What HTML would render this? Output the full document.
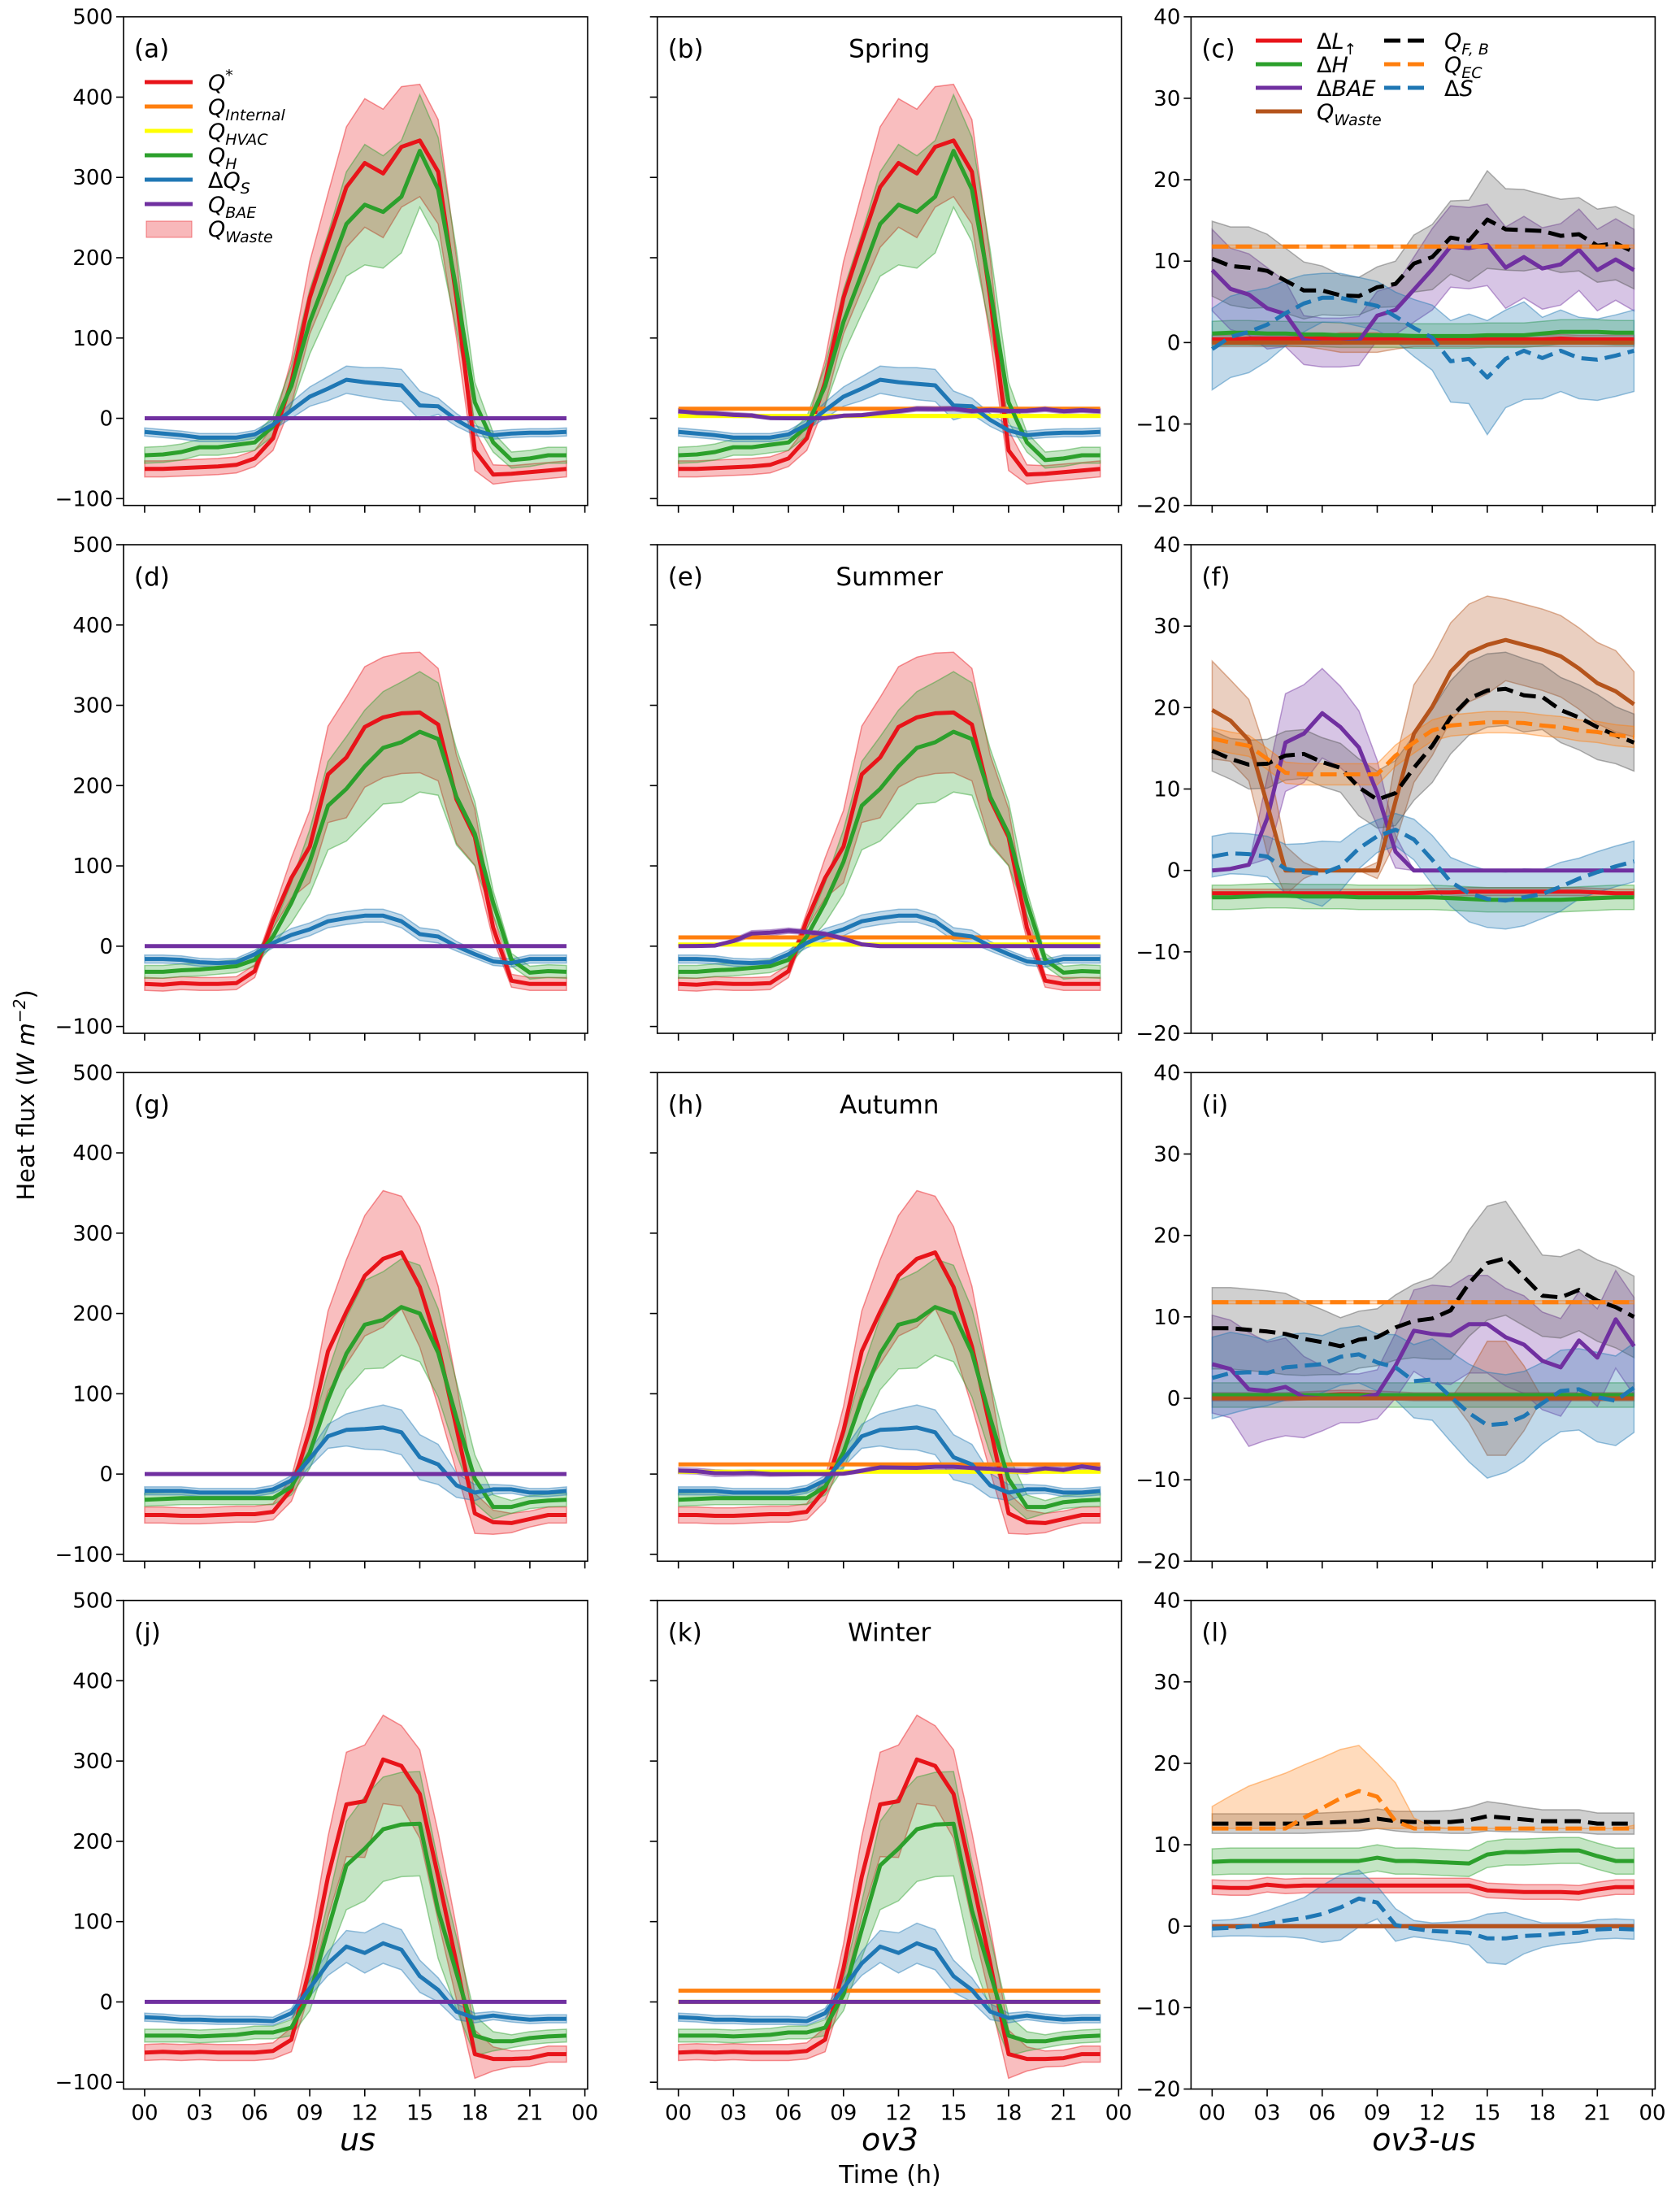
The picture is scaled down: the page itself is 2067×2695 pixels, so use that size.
<!DOCTYPE html>
<html><head><meta charset="utf-8">
<style>
html,body{margin:0;padding:0;background:#fff;}
svg{display:block;font-family:"DejaVu Sans","Liberation Sans",sans-serif;}
</style></head>
<body>
<svg id="fig" xmlns="http://www.w3.org/2000/svg" width="2067" height="2695" viewBox="0 0 2067 2695">
<rect x="0" y="0" width="2067" height="2695" fill="#fff"/>
<defs id="defs"></defs>
<g id="plots"></g>
<g id="legend-a" font-size="27" font-style="italic">
  <line x1="178" y1="101" x2="237" y2="101" stroke="#e8141a" stroke-width="5"/>
  <text x="256" y="111">Q<tspan dy="-12" font-size="19" font-style="normal">*</tspan></text>
  <line x1="178" y1="131" x2="237" y2="131" stroke="#ff7f0e" stroke-width="5"/>
  <text x="256" y="141">Q<tspan dy="7" font-size="19">Internal</tspan></text>
  <line x1="178" y1="161" x2="237" y2="161" stroke="#ffff00" stroke-width="5"/>
  <text x="256" y="171">Q<tspan dy="7" font-size="19">HVAC</tspan></text>
  <line x1="178" y1="191" x2="237" y2="191" stroke="#2ca02c" stroke-width="5"/>
  <text x="256" y="201">Q<tspan dy="7" font-size="19">H</tspan></text>
  <line x1="178" y1="221" x2="237" y2="221" stroke="#1f77b4" stroke-width="5"/>
  <text x="256" y="231"><tspan font-style="normal">Δ</tspan>Q<tspan dy="7" font-size="19">S</tspan></text>
  <line x1="178" y1="251" x2="237" y2="251" stroke="#7030a0" stroke-width="5"/>
  <text x="256" y="261">Q<tspan dy="7" font-size="19">BAE</tspan></text>
  <rect x="180" y="272" width="56" height="20" fill="#e8141a" fill-opacity="0.3" stroke="#e8141a" stroke-opacity="0.5"/>
  <text x="256" y="291">Q<tspan dy="7" font-size="19">Waste</tspan></text>
</g>
<g id="legend-c" font-size="27" font-style="italic">
  <line x1="1545" y1="50" x2="1602" y2="50" stroke="#e8141a" stroke-width="5"/>
  <text x="1620" y="60"><tspan font-style="normal">Δ</tspan>L<tspan dy="7" font-size="19" font-style="normal">↑</tspan></text>
  <line x1="1545" y1="79" x2="1602" y2="79" stroke="#2ca02c" stroke-width="5"/>
  <text x="1620" y="89"><tspan font-style="normal">Δ</tspan>H</text>
  <line x1="1545" y1="108" x2="1602" y2="108" stroke="#7030a0" stroke-width="5"/>
  <text x="1620" y="118"><tspan font-style="normal">Δ</tspan>BAE</text>
  <line x1="1545" y1="137" x2="1602" y2="137" stroke="#b5541c" stroke-width="5"/>
  <text x="1620" y="147">Q<tspan dy="7" font-size="19">Waste</tspan></text>
  <line x1="1703" y1="50" x2="1752" y2="50" stroke="#000" stroke-width="5" stroke-dasharray="20 9"/>
  <text x="1777" y="60">Q<tspan dy="7" font-size="19">F, B</tspan></text>
  <line x1="1703" y1="79" x2="1752" y2="79" stroke="#ff7f0e" stroke-width="5" stroke-dasharray="20 9"/>
  <text x="1777" y="89">Q<tspan dy="7" font-size="19">EC</tspan></text>
  <line x1="1703" y1="108" x2="1752" y2="108" stroke="#1f77b4" stroke-width="5" stroke-dasharray="20 9"/>
  <text x="1777" y="118"><tspan font-style="normal">Δ</tspan>S</text>
</g>
<text x="440" y="2645" font-size="38" font-style="italic" text-anchor="middle">us</text>
<text x="1095" y="2645" font-size="38" font-style="italic" text-anchor="middle">ov3</text>
<text x="1752" y="2645" font-size="38" font-style="italic" text-anchor="middle">ov3-us</text>
<text x="1095" y="2685" font-size="30" text-anchor="middle">Time (h)</text>
<text x="0" y="0" font-size="29" text-anchor="middle" transform="translate(42,1347) rotate(-90)">Heat flux (<tspan font-style="italic">W m</tspan><tspan dy="-11" font-size="20" font-style="italic">−2</tspan><tspan dy="11">)</tspan></text>
</svg>
<script>
// ---------------- data ----------------
const hours = [0,1,2,3,4,5,6,7,8,9,10,11,12,13,14,15,16,17,18,19,20,21,22,23];
const seasons = ['Spring','Summer','Autumn','Winter'];
const xTickHours = [0,3,6,9,12,15,18,21,24];
const xTickLabels = ['00','03','06','09','12','15','18','21','00'];
const yTicksFlux = [500,400,300,200,100,0,-100];
const yTicksDiff = [40,30,20,10,0,-10,-20];

// Q* (net radiation)
const qstar_spring = [-63,-63,-62,-61,-60,-58,-50,-25,45,150,220,288,318,305,338,346,307,150,-40,-70,-69,-67,-65,-63];
const qstar_summer = [-47,-48,-46,-47,-47,-46,-31,32,85,124,214,235,273,285,290,291,276,183,136,23,-43,-47,-47,-47];
const qstar_autumn = [-51,-51,-52,-52,-51,-50,-50,-47,-19,54,153,202,247,268,276,233,159,58,-49,-60,-61,-56,-51,-51];
const qstar_winter = [-63,-62,-63,-62,-63,-63,-63,-61,-47,42,156,246,250,302,294,259,156,48,-65,-71,-71,-70,-65,-65];
const qstarSpread_spring = [10,10,10,10,10,10,10,15,28,45,60,75,80,80,75,70,65,50,25,12,10,10,10,10];
const qstarSpread_summer = [8,8,8,8,8,8,8,10,25,45,60,75,75,75,75,75,70,55,35,15,8,8,8,8];
const qstarSpread_autumn = [10,10,10,10,10,10,10,10,15,30,50,65,75,85,70,75,75,55,25,15,12,10,10,10];
const qstarSpread_winter = [10,10,10,10,10,10,10,10,15,30,50,65,70,55,50,55,55,45,30,15,10,10,10,10];
// QH
const qh_spring = [-46,-45,-42,-36,-36,-33,-30,-10,40,120,180,242,266,257,276,333,285,160,20,-30,-52,-50,-46,-46];
const qh_summer = [-32,-32,-30,-29,-27,-25,-17,12,54,105,175,196,224,247,254,267,258,186,140,54,-17,-33,-31,-32];
const qh_autumn = [-32,-31,-30,-30,-30,-30,-30,-30,-16,27,93,150,186,192,208,200,151,70,-6,-41,-41,-35,-33,-32];
const qh_winter = [-42,-42,-42,-43,-42,-41,-38,-38,-32,9,90,170,191,215,221,222,114,36,-42,-49,-49,-45,-43,-42];
const qhSpread_spring = [10,10,10,10,10,10,10,12,25,40,50,65,75,70,70,70,65,50,25,12,10,10,10,10];
const qhSpread_summer = [8,8,8,8,8,8,8,10,25,40,55,65,70,70,75,75,70,60,40,15,8,8,8,8];
const qhSpread_autumn = [8,8,8,8,8,8,8,8,10,20,35,45,55,60,60,60,55,45,30,15,8,8,8,8];
const qhSpread_winter = [8,8,8,8,8,8,8,8,10,20,35,55,65,65,65,65,60,45,25,12,8,8,8,8];
// ΔQS
const dqs_spring = [-17,-19,-21,-24,-24,-24,-20,-8,10,27,37,48,45,43,41,16,15,-2,-15,-21,-19,-18,-18,-17];
const dqs_summer = [-16,-16,-17,-20,-21,-20,-10,4,14,21,31,35,38,38,31,15,12,0,-10,-19,-21,-16,-16,-16];
const dqs_autumn = [-21,-21,-21,-23,-23,-23,-23,-19,-8,19,47,55,56,58,52,21,12,-14,-23,-19,-19,-23,-23,-21];
const dqs_winter = [-19,-20,-22,-22,-23,-23,-23,-24,-14,17,48,69,61,73,65,32,15,-12,-20,-17,-20,-22,-21,-21];
const dqsSpread_spring = [5,5,5,5,5,5,5,6,10,12,15,17,18,20,20,18,10,8,6,5,5,5,5,5];
const dqsSpread_summer = [5,5,5,5,5,5,5,6,8,8,8,8,8,8,8,8,8,6,5,5,5,5,5,5];
const dqsSpread_autumn = [5,5,5,5,5,5,5,5,6,10,15,20,25,28,28,28,25,15,10,6,5,5,5,5];
const dqsSpread_winter = [5,5,5,5,5,5,5,5,6,10,15,20,25,25,25,20,15,10,6,5,5,5,5,5];
// ov3 building terms (per-season levels)
const qInternalLevel = [12,11,12,14];
const qHVACLevel = [3,2,3,0];

// ov3-us differences
const dL_spring = [0.4,0.4,0.5,0.5,0.5,0.5,0.5,0.5,0.5,0.5,0.5,0.5,0.4,0.4,0.4,0.4,0.4,0.4,0.4,0.5,0.4,0.4,0.4,0.4];
const dL_summer = [-2.8,-2.8,-2.8,-2.8,-2.8,-2.8,-2.8,-2.8,-2.8,-2.8,-2.8,-2.8,-2.7,-2.7,-2.6,-2.6,-2.6,-2.6,-2.6,-2.6,-2.6,-2.7,-2.8,-2.8];
const dL_autumn = [0.2,0.2,0.2,0.2,0.2,0.3,0.4,0.5,0.5,0.4,0.3,0.2,0.2,0.2,0.2,0.2,0.2,0.2,0.2,0.2,0.2,0.2,0.2,0.2];
const dL_winter = [4.8,4.7,4.7,5.1,4.9,5,5,5,5,5,5,5,5,5,5,4.4,4.3,4.2,4.2,4.2,4.1,4.5,4.8,4.8];
const dH_spring = [1.1,1.2,1.2,1.1,1.1,1,1,0.9,0.9,0.9,0.9,0.8,0.8,0.8,0.8,0.9,0.9,0.9,1.1,1.3,1.3,1.3,1.2,1.2];
const dH_summer = [-3.3,-3.3,-3.2,-3.1,-3.1,-3.2,-3.2,-3.2,-3.3,-3.3,-3.3,-3.3,-3.3,-3.4,-3.5,-3.6,-3.6,-3.6,-3.6,-3.6,-3.5,-3.4,-3.3,-3.3];
const dH_autumn = [0.4,0.4,0.4,0.4,0.4,0.4,0.4,0.4,0.4,0.4,0.4,0.4,0.4,0.4,0.4,0.4,0.4,0.4,0.4,0.4,0.4,0.4,0.4,0.4];
const dH_winter = [7.9,8,8,8,8,8,8,8,8,8.4,8,8,7.9,7.8,7.7,8.8,9.1,9.1,9.2,9.3,9.3,8.6,8,8];
const dBAE_spring = [8.9,6.6,5.9,4.2,3.5,0.3,0,0,0.2,3.3,4,6.5,9,11.8,11.6,12,9.2,10.5,9.1,9.6,11.4,8.9,10.2,8.9];
const dBAE_summer = [0,0.2,0.7,6.4,15.7,16.8,19.3,17.6,15.1,9.5,2.3,0,0,0,0,0,0,0,0,0,0,0,0,0];
const dBAE_autumn = [4.2,3.6,1.1,0.9,1.4,0.15,0,0,0,0.5,4,8.3,7.9,7.7,9.1,9.1,7.5,6.6,4.6,3.8,7.1,5,9.7,6.4];
const dBAE_winter = [0,0,0,0,0,0,0,0,0,0,0,0,0,0,0,0,0,0,0,0,0,0,0,0];
const dBAESpread_spring = [5,5,5,5,4,3,3,3,3,3,3,4,5,5,5,5,5,5,5,5,5,5,5,5];
const dBAESpread_summer = [0,0,0,5,6,6,5.5,5,4.5,4,2,0,0,0,0,0,0,0,0,0,0,0,0,0];
const dBAESpread_autumn = [6,6,7,6,6,5,4,3,3,3,4,5,6,6,6,6,6,6,6,6,6,6,6,6];
const dBAESpread_winter = [0,0,0,0,0,0,0,0,0,0,0,0,0,0,0,0,0,0,0,0,0,0,0,0];
const qwaste_spring = [0,0,0,0,0,0,0,0,0,0,0,0,0,0,0,0,0,0,0,0,0,0,0,0];
const qwaste_summer = [19.7,18.4,16,8.1,0,0,0,0,0,0,8.5,16.8,20.1,24.4,26.7,27.7,28.3,27.7,27.1,26.3,24.8,23,22,20.4];
const qwaste_autumn = [0,0,0,0,0,0,0,0,0,0,0,0,0,0,0,0,0,0,0,0,0,0,0,0];
const qwaste_winter = [0,0,0,0,0,0,0,0,0,0,0,0,0,0,0,0,0,0,0,0,0,0,0,0];
const qwasteSpread_spring = [0.5,0.5,0.5,0.5,0.5,0.5,0.8,1.2,1.2,1.2,0.8,0.5,0.5,0.5,0.5,0.5,0.5,0.5,0.5,0.5,0.5,0.5,0.5,0.5];
const qwasteSpread_summer = [6,5,5,6,3,1,0,0,0,1,5,6,6,6,6,6,5,5,5,5,5,5,5,4];
const qwasteSpread_autumn = [0,0,0,0,0,0,0,0,0,0,0,0,0,0,3,7,7,4,0,0,0,0,0,0];
const qwasteSpread_winter = [0,0,0,0,0,0,0,0,0,0,0,0,0,0,0,0,0,0,0,0,0,0,0,0];
const qfb_spring = [10.3,9.4,9.2,8.8,7.6,6.4,6.4,5.8,5.7,6.8,7.2,9.7,10.5,12.9,12.5,15.1,13.9,13.8,13.7,13.1,13.3,11.9,12.2,11.1];
const qfb_summer = [14.7,13.7,13.0,13.1,14.1,14.3,13.3,12.6,10.2,8.7,9.5,12.6,15.3,18.8,21.1,22.1,22.3,21.5,21.3,19.7,18.8,17.6,16.6,15.7];
const qfb_autumn = [8.6,8.6,8.4,8.2,7.9,7.3,6.9,6.4,7.2,7.5,8.7,9.5,9.8,10.8,14.1,16.6,17.2,14.9,12.6,12.4,13.3,12,11.2,10];
const qfb_winter = [12.6,12.6,12.6,12.6,12.6,12.6,12.7,12.8,12.9,13.2,12.9,12.8,12.8,12.8,13,13.5,13.3,13.1,12.9,12.9,12.9,12.6,12.6,12.6];
const qfbSpread_spring = [4.6,4.8,5,4.5,4,3.5,3,2.5,2.3,2.5,2.8,3.5,4,4.5,5,6,5,5,4.5,4.5,4.5,4.5,4.5,4.5];
const qfbSpread_summer = [2.5,2.5,3,3,3,3,3,3,3.5,3.5,4,4,4.5,4.5,4.5,4.5,4.5,4.5,4,4,4,4,3.5,3.5];
const qfbSpread_autumn = [5,5,5,5,5,4.5,4,3.5,3.5,3.5,4,4.5,5,6,6.5,7,7,6,5,5,5,5,5,5];
const qfbSpread_winter = [1.2,1.2,1.2,1.2,1.2,1.2,1.2,1.2,1.2,1.2,1.2,1.3,1.3,1.4,1.6,1.8,1.7,1.5,1.4,1.4,1.4,1.3,1.3,1.3];
const qec_spring = [11.8,11.8,11.8,11.8,11.8,11.8,11.8,11.8,11.8,11.8,11.8,11.8,11.8,11.8,11.8,11.8,11.8,11.8,11.8,11.8,11.8,11.8,11.8,11.8];
const qec_summer = [16.2,15.7,15.3,13.7,12,11.8,11.8,11.8,11.8,11.8,14.1,15.7,17.2,17.8,18,18.2,18.2,18.1,17.8,17.6,17.2,17,16.6,16.4];
const qec_autumn = [11.8,11.8,11.8,11.8,11.8,11.8,11.8,11.8,11.8,11.8,11.8,11.8,11.8,11.8,11.8,11.8,11.8,11.8,11.8,11.8,11.8,11.8,11.8,11.8];
const qec_winter = [12,12,12,12,12,13.3,14.5,15.7,16.6,15.9,12.9,12,12,12,12,12,12,12,12,12,12,12,12,12];
const qecSpread_spring = [0.2,0.2,0.2,0.2,0.2,0.2,0.2,0.2,0.2,0.2,0.2,0.2,0.2,0.2,0.2,0.2,0.2,0.2,0.2,0.2,0.2,0.2,0.2,0.2];
const qecSpread_summer = [1.3,1.3,1.3,1.3,1.3,1.3,1.3,1.3,1.3,1.3,1.3,1.3,1.3,1.3,1.3,1.3,1.3,1.3,1.3,1.3,1.3,1.3,1.3,1.3];
const qecSpread_autumn = [0.2,0.2,0.2,0.2,0.2,0.2,0.2,0.2,0.2,0.2,0.2,0.2,0.2,0.2,0.2,0.2,0.2,0.2,0.2,0.2,0.2,0.2,0.2,0.2];
const qecLo_winter = [12,12,12,12,12,12,12,12,12,12,12,12,12,12,12,12,12,12,12,12,12,12,12,12];
const qecHi_winter = [14.7,16,17.2,18,18.8,19.8,20.7,21.7,22.2,20,17.6,13.3,12.2,12,12,12,12,12,12,12,12,12,12,12.4];
const dS_spring = [-0.8,0.7,1.3,2.2,3.6,4.8,5.5,5.5,5.0,4.5,3.2,1.8,0.6,-2.3,-2.0,-4.3,-2.0,-1.0,-1.9,-1.0,-1.9,-2.1,-1.6,-1.0];
const dS_summer = [1.7,2.1,2,1.7,0.2,-0.2,-0.4,0.5,2.7,4.2,5,3.8,1.3,-1.4,-2.8,-3.5,-3.7,-3.3,-2.9,-2,-1,-0.2,0.5,1.1];
const dS_autumn = [2.5,3.1,3.2,3.1,3.8,4,4.2,5.1,5.4,4.4,3.8,2.1,2.3,0.2,-1.8,-3.3,-3.1,-2.2,-0.6,0.9,1.1,0.15,-0.3,1.3];
const dS_winter = [-0.3,-0.2,0,0.3,0.7,1,1.5,2.3,3.4,2.9,0.15,-0.3,-0.6,-0.7,-0.8,-1.5,-1.5,-1.2,-1.1,-0.9,-0.8,-0.4,-0.3,-0.4];
const dSSpread_spring = [5,5,5,4.5,4,3.5,3,3,3,3,3,3.5,4,5,5.5,7,6,6,5,5,5,5,5,5];
const dSSpread_summer = [2.5,2.5,2.5,2.5,3,3.5,4,3,2.5,2,2,2.5,3,3,3.5,3.5,3.5,3.5,3,3,2.5,2.5,2.5,2.5];
const dSSpread_autumn = [5,5,4.5,4,4,4,3.5,3.5,3.5,3.5,4,4.5,5,5.5,6,6.5,6,5.5,5,5,5,5.5,5.5,5.5];
const dSSpread_winter = [1,1,1.2,1.6,2,2.5,3.5,4,3.5,2,2,1,1,1.2,1.5,3,3.2,2.2,1.5,1.3,1.2,1.2,1.2,1.2];

// ---------------- layout ----------------
const NS = 'http://www.w3.org/2000/svg';
const X0 = [152, 808.7, 1465.4];
const Y0 = [20.7, 670, 1319.3, 1968.6];
const W = 571, H = 601;
const XMIN = -1.15, XMAX = 24.15;
const COL = {red:'#e8141a', orange:'#ff7f0e', yellow:'#ffff00', green:'#2ca02c', blue:'#1f77b4', purple:'#7030a0', brown:'#b5541c', black:'#000000'};

function xScale(c, h){ return X0[c] + (h - XMIN) / (XMAX - XMIN) * W; }
function yScale(r, c, v){
  const lo = c < 2 ? -108.5 : -20, hi = c < 2 ? 500 : 40;
  return Y0[r] + (hi - v) / (hi - lo) * H;
}
function mk(tag, attrs, parent){
  const e = document.createElementNS(NS, tag);
  for (const k in attrs) e.setAttribute(k, attrs[k]);
  parent.appendChild(e);
  return e;
}
function linePts(r, c, vals){
  return hours.map((h,i)=> xScale(c,h).toFixed(1)+','+yScale(r,c,vals[i]).toFixed(1)).join(' ');
}
function bandPts(r, c, lo, hi){
  const up = hours.map((h,i)=> xScale(c,h).toFixed(1)+','+yScale(r,c,hi[i]).toFixed(1));
  const dn = hours.slice().reverse().map((h,j)=>{ const i = hours.length-1-j; return xScale(c,h).toFixed(1)+','+yScale(r,c,lo[i]).toFixed(1); });
  return up.concat(dn).join(' ');
}
function drawBand(g, r, c, mean, spread, color, name, loArr, hiArr){
  const lo = loArr || mean.map((v,i)=> v - spread[i]);
  const hi = hiArr || mean.map((v,i)=> v + spread[i]);
  const p = mk('polygon', {points: bandPts(r,c,lo,hi), fill: color, 'fill-opacity': 0.28, stroke: color, 'stroke-opacity': 0.45, 'stroke-width': 1.5}, g);
  
  
}
function drawLine(g, r, c, vals, color, name, dashed){
  const a = {points: linePts(r,c,vals), fill:'none', stroke: color, 'stroke-width': 5, 'stroke-linejoin':'round'};
  if (dashed) a['stroke-dasharray'] = '20 9';
  const l = mk('polyline', a, g);
  
  
}
function flat(v){ return hours.map(()=> v); }

const svg = document.getElementById('plots');
const defs = document.getElementById('defs');
const letters = 'abcdefghijkl';
const sKeys = ['spring','summer','autumn','winter'];
const D = {
  qstar: [qstar_spring,qstar_summer,qstar_autumn,qstar_winter],
  qstarS: [qstarSpread_spring,qstarSpread_summer,qstarSpread_autumn,qstarSpread_winter],
  qh: [qh_spring,qh_summer,qh_autumn,qh_winter],
  qhS: [qhSpread_spring,qhSpread_summer,qhSpread_autumn,qhSpread_winter],
  dqs: [dqs_spring,dqs_summer,dqs_autumn,dqs_winter],
  dqsS: [dqsSpread_spring,dqsSpread_summer,dqsSpread_autumn,dqsSpread_winter],
  dL: [dL_spring,dL_summer,dL_autumn,dL_winter],
  dH: [dH_spring,dH_summer,dH_autumn,dH_winter],
  dBAE: [dBAE_spring,dBAE_summer,dBAE_autumn,dBAE_winter],
  dBAES: [dBAESpread_spring,dBAESpread_summer,dBAESpread_autumn,dBAESpread_winter],
  qwaste: [qwaste_spring,qwaste_summer,qwaste_autumn,qwaste_winter],
  qwasteS: [qwasteSpread_spring,qwasteSpread_summer,qwasteSpread_autumn,qwasteSpread_winter],
  qfb: [qfb_spring,qfb_summer,qfb_autumn,qfb_winter],
  qfbS: [qfbSpread_spring,qfbSpread_summer,qfbSpread_autumn,qfbSpread_winter],
  qec: [qec_spring,qec_summer,qec_autumn,qec_winter],
  qecS: [qecSpread_spring,qecSpread_summer,qecSpread_autumn,null],
  dS: [dS_spring,dS_summer,dS_autumn,dS_winter],
  dSS: [dSSpread_spring,dSSpread_summer,dSSpread_autumn,dSSpread_winter]
};

for (let r = 0; r < 4; r++){
  for (let c = 0; c < 3; c++){
    const key = sKeys[r];
    const panel = mk('g', {}, svg);
    
    
    const cid = 'clip' + r + c;
    const cp = mk('clipPath', {id: cid}, defs);
    mk('rect', {x: X0[c], y: Y0[r], width: W, height: H}, cp);
    const g = mk('g', {'clip-path': 'url(#' + cid + ')'}, panel);

    if (c < 2){
      drawBand(g, r, c, D.qstar[r], D.qstarS[r], COL.red, 'qstar-band-' + key);
      drawBand(g, r, c, D.qh[r], D.qhS[r], COL.green, 'qh-band-' + key);
      drawBand(g, r, c, D.dqs[r], D.dqsS[r], COL.blue, 'dqs-band-' + key);
      if (c === 1){
        drawBand(g, r, c, flat(qHVACLevel[r]), flat(2), COL.yellow, 'qhvac-band-' + key);
        drawBand(g, r, c, D.dBAE[r], D.dBAES[r].map(v=>v*0.6), COL.purple, 'qbae-band-' + key);
      }
      drawLine(g, r, c, D.qstar[r], COL.red, 'qstar-line-' + key);
      if (c === 1){
        drawLine(g, r, c, flat(qInternalLevel[r]), COL.orange, 'qinternal-line-' + key);
        drawLine(g, r, c, flat(qHVACLevel[r]), COL.yellow, 'qhvac-line-' + key);
      }
      drawLine(g, r, c, D.qh[r], COL.green, 'qh-line-' + key);
      drawLine(g, r, c, D.dqs[r], COL.blue, 'dqs-line-' + key);
      drawLine(g, r, c, c === 1 ? D.dBAE[r] : flat(0), COL.purple, 'qbae-line-' + key);
    } else {
      const dLS = r === 3 ? flat(0.9) : flat(0.5);
      const dHS = r === 3 ? flat(1.6) : flat(1.5);
      drawBand(g, r, c, D.dL[r], dLS, COL.red, 'dl-band-' + key);
      drawBand(g, r, c, D.dH[r], dHS, COL.green, 'dh-band-' + key);
      drawBand(g, r, c, D.dBAE[r], D.dBAES[r], COL.purple, 'dbae-band-' + key);
      drawBand(g, r, c, D.qwaste[r], D.qwasteS[r], COL.brown, 'qwaste-band-' + key);
      drawBand(g, r, c, D.qfb[r], D.qfbS[r], '#555555', 'qfb-band-' + key);
      if (r === 3) drawBand(g, r, c, D.qec[r], null, COL.orange, 'qec-band-' + key, qecLo_winter, qecHi_winter);
      else drawBand(g, r, c, D.qec[r], D.qecS[r], COL.orange, 'qec-band-' + key);
      drawBand(g, r, c, D.dS[r], D.dSS[r], COL.blue, 'ds-band-' + key);
      drawLine(g, r, c, D.dL[r], COL.red, 'dl-line-' + key);
      drawLine(g, r, c, D.dH[r], COL.green, 'dh-line-' + key);
      drawLine(g, r, c, D.dBAE[r], COL.purple, 'dbae-line-' + key);
      drawLine(g, r, c, D.qwaste[r], COL.brown, 'qwaste-line-' + key);
      drawLine(g, r, c, D.qfb[r], COL.black, 'qfb-line-' + key, true);
      drawLine(g, r, c, D.qec[r], COL.orange, 'qec-line-' + key, true);
      drawLine(g, r, c, D.dS[r], COL.blue, 'ds-line-' + key, true);
    }

    const fr = mk('rect', {x: X0[c], y: Y0[r], width: W, height: H, fill: 'none', stroke: '#000', 'stroke-width': 1.6}, panel);
    
    

    xTickHours.forEach((h, i) => {
      const x = xScale(c, h);
      const t = mk('line', {x1: x, y1: Y0[r]+H, x2: x, y2: Y0[r]+H+9, stroke:'#000', 'stroke-width':1.6}, panel);
      
      
      if (r === 3){
        const tl = mk('text', {x: x, y: Y0[r]+H+38, 'font-size': 26, 'text-anchor':'middle'}, panel);
        tl.textContent = xTickLabels[i];
        
        
      }
    });
    const yt = c < 2 ? yTicksFlux : yTicksDiff;
    yt.forEach(v => {
      const y = yScale(r, c, v);
      const t = mk('line', {x1: X0[c]-9, y1: y, x2: X0[c], y2: y, stroke:'#000', 'stroke-width':1.6}, panel);
      
      
      if (c !== 1){
        const tl = mk('text', {x: X0[c]-13, y: y+9, 'font-size': 26, 'text-anchor':'end'}, panel);
        tl.textContent = v < 0 ? '\u2212' + Math.abs(v) : String(v);
        
        
      }
    });
    const pl = mk('text', {x: X0[c]+13, y: Y0[r]+50, 'font-size': 31}, panel);
    pl.textContent = '(' + letters[r*3+c] + ')';
    
    
    if (c === 1){
      const st = mk('text', {x: X0[c]+W/2, y: Y0[r]+50, 'font-size': 31, 'text-anchor':'middle'}, panel);
      st.textContent = seasons[r];
      
      
    }
  }
}
</script>
</body></html>
